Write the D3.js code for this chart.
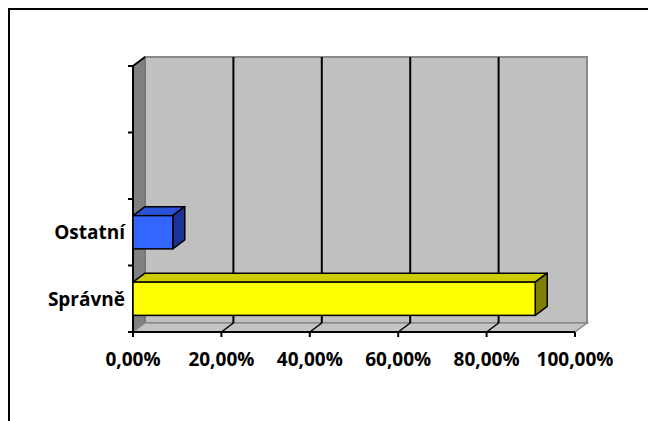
<!DOCTYPE html>
<html>
<head>
<meta charset="utf-8">
<script src="https://cdn.jsdelivr.net/npm/d3@7"></script>
<style>
html,body{margin:0;padding:0;background:#fff;}
svg{display:block;}
text{font-family:"Open Sans",sans-serif;font-weight:bold;font-size:19px;fill:#000;}
</style>
</head>
<body>
<svg id="chart" width="648" height="421"></svg>
<script>
// categories bottom to top
const categories = ["Správně", "Ostatní", "", ""];
const values = [0.91, 0.09, null, null];
const barColors = ["#FFFF00", "#3366FF", null, null];
const topColors = ["#CCCC00", "#2A52D6", null, null];
const sideColors = ["#808000", "#1A3399", null, null];
const xTicks = [0, 0.2, 0.4, 0.6, 0.8, 1.0];

const svg = d3.select("#chart");
const dx = 12, dy = -9;

const x = d3.scaleLinear().domain([0, 1]).range([133, 575]);
const y = d3.scaleBand()
  .domain(categories.map((c, i) => i).reverse())
  .range([66, 332])
  .paddingInner(0.5)
  .paddingOuter(0.25);

const y0 = y.range()[0], y1 = y.range()[1];
const step = y.step(), bw = y.bandwidth();
const fmt = v => d3.format(".2f")(v * 100).replace(".", ",") + "%";

// outer frame
svg.append("rect").attr("x", 9).attr("y", 9).attr("width", 700).attr("height", 500)
  .attr("fill", "none").attr("stroke", "#000").attr("stroke-width", 2);

// back wall
svg.append("rect")
  .attr("x", x(0) + dx).attr("y", y0 + dy)
  .attr("width", x(1) - x(0)).attr("height", y1 - y0)
  .attr("fill", "#C0C0C0").attr("stroke", "#8A8A8A").attr("stroke-width", 2);

// left side wall
svg.append("polygon")
  .attr("points", [[x(0), y0], [x(0) + dx, y0 + dy], [x(0) + dx, y1 + dy], [x(0), y1]].join(" "))
  .attr("fill", "#808080").attr("stroke", "#6a6a6a").attr("stroke-width", 1);

// floor
svg.append("polygon")
  .attr("points", [[x(0), y1], [x(0) + dx, y1 + dy], [x(1) + dx, y1 + dy], [x(1), y1]].join(" "))
  .attr("fill", "#C4C4C4").attr("stroke", "#8A8A8A").attr("stroke-width", 1.5);

// gridlines on back wall + floor diagonals
const inner = xTicks.filter(t => t > 0 && t < 1);
svg.append("g").selectAll("line").data(inner).join("line")
  .attr("x1", d => x(d) + dx).attr("x2", d => x(d) + dx)
  .attr("y1", y0 + dy).attr("y2", y1 + dy)
  .attr("stroke", "#000").attr("stroke-width", 2);
svg.append("g").selectAll("line").data(inner).join("line")
  .attr("x1", d => x(d) + dx).attr("x2", d => x(d))
  .attr("y1", y1 + dy).attr("y2", y1)
  .attr("stroke", "#000").attr("stroke-width", 1.5);

// top-left diagonal edge of left wall
svg.append("line").attr("x1", x(0)).attr("y1", y0).attr("x2", x(0) + dx).attr("y2", y0 + dy)
  .attr("stroke", "#000").attr("stroke-width", 2);

// axes lines
svg.append("line").attr("x1", x(0)).attr("x2", x(0)).attr("y1", y0).attr("y2", y1)
  .attr("stroke", "#000").attr("stroke-width", 2);
svg.append("line").attr("x1", x(0)).attr("x2", x(1)).attr("y1", y1).attr("y2", y1)
  .attr("stroke", "#000").attr("stroke-width", 2);

// x ticks
svg.append("g").selectAll("line").data(xTicks).join("line")
  .attr("x1", d => x(d)).attr("x2", d => x(d)).attr("y1", y1).attr("y2", y1 + 5)
  .attr("stroke", "#000").attr("stroke-width", 2);
// y ticks at band boundaries
const yTickPos = d3.range(categories.length + 1).map(i => y0 + i * step);
svg.append("g").selectAll("line").data(yTickPos).join("line")
  .attr("x1", x(0) - 5).attr("x2", x(0)).attr("y1", d => d).attr("y2", d => d)
  .attr("stroke", "#000").attr("stroke-width", 2);

// bars
const bars = categories.map((c, i) => ({ c, i, v: values[i] })).filter(d => d.v != null);
const g = svg.append("g");
bars.forEach(d => {
  const xa = x(0), xb = x(d.v), yt = y(d.i), yb = yt + bw;
  g.append("polygon")
    .attr("points", [[xa, yt], [xa + dx, yt + dy], [xb + dx, yt + dy], [xb, yt]].join(" "))
    .attr("fill", topColors[d.i]).attr("stroke", "#000").attr("stroke-width", 1.5).attr("stroke-linejoin", "round");
  g.append("polygon")
    .attr("points", [[xb, yt], [xb + dx, yt + dy], [xb + dx, yb + dy], [xb, yb]].join(" "))
    .attr("fill", sideColors[d.i]).attr("stroke", "#000").attr("stroke-width", 1.5).attr("stroke-linejoin", "round");
  g.append("rect")
    .attr("x", xa).attr("y", yt).attr("width", xb - xa).attr("height", bw)
    .attr("fill", barColors[d.i]).attr("stroke", "#000").attr("stroke-width", 1.5);
});

// x labels
svg.append("g").selectAll("text").data(xTicks).join("text")
  .attr("x", d => x(d)).attr("y", 366)
  .attr("text-anchor", "middle")
  .text(fmt);

// y labels
svg.append("g").selectAll("text").data(categories.map((c, i) => ({ c, i }))).join("text")
  .attr("x", 125).attr("y", d => y(d.i) + bw / 2)
  .attr("text-anchor", "end").attr("dominant-baseline", "central")
  .text(d => d.c);
</script>
</body>
</html>
